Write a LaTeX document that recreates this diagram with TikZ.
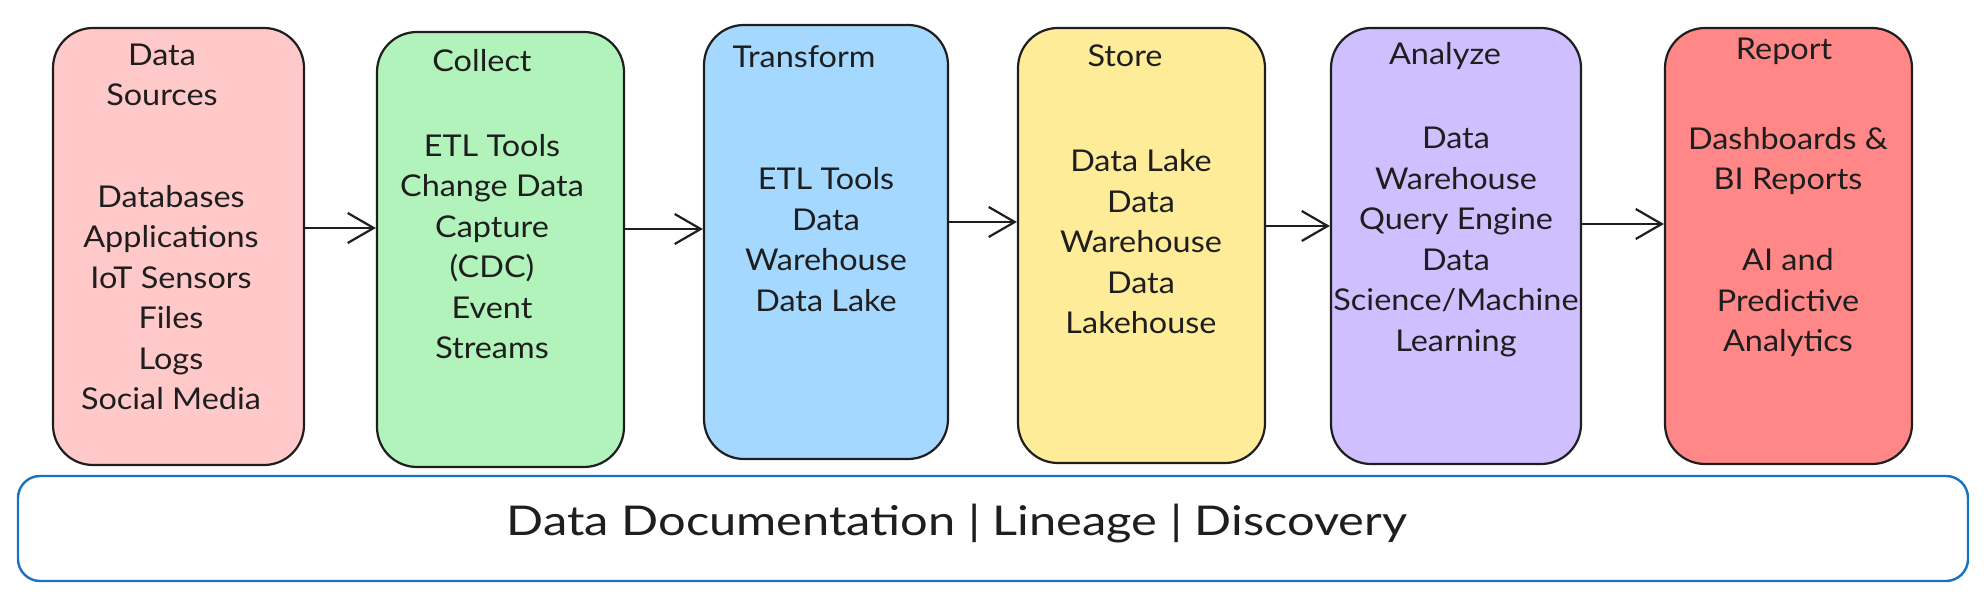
\documentclass[tikz,border=0pt]{standalone}
\usepackage{fontspec}
\setmainfont{Lato}[FakeStretch=1.08]
\newfontfamily\widefont{Lato}[FakeStretch=1.19]
\usetikzlibrary{arrows.meta}
\definecolor{cpink}{HTML}{FFC9C9}
\definecolor{cgreen}{HTML}{B2F2BB}
\definecolor{cblue}{HTML}{A5D8FF}
\definecolor{cyellow}{HTML}{FFEC99}
\definecolor{cpurple}{HTML}{D0BFFF}
\definecolor{cred}{HTML}{FF8787}
\definecolor{cink}{HTML}{1E1E1E}
\definecolor{cstroke}{HTML}{1971C2}
\tikzset{
  stage/.style={draw=cink, line width=2.2pt, rounded corners=40pt, inner sep=0pt},
  base/.style={draw=cstroke, line width=2.4pt, rounded corners=22pt, fill=white, inner sep=0pt},
  ttl/.style={text=cink, align=center, inner sep=0pt, font=\fontsize{30}{40}\selectfont},
  items/.style={text=cink, align=center, inner sep=0pt, font=\fontsize{30}{40.5}\selectfont},
  arr/.style={draw=cink, line width=2.2pt, -{Straight Barb[length=26pt,width=30pt,line width=2.2pt]}},
}
\begin{document}
\begin{tikzpicture}[x=1pt,y=-1pt]
\useasboundingbox (0,0) rectangle (1988,601);
% stages
\node[stage, fill=cpink,   minimum width=251pt, minimum height=437pt] (b1) at (178.5,246.5) {};
\node[stage, fill=cgreen,  minimum width=247pt, minimum height=435pt] (b2) at (500.5,249.5) {};
\node[stage, fill=cblue,   minimum width=244pt, minimum height=434pt] (b3) at (826,242) {};
\node[stage, fill=cyellow, minimum width=247pt, minimum height=435pt] (b4) at (1141.5,245.5) {};
\node[stage, fill=cpurple, minimum width=250pt, minimum height=436pt] (b5) at (1456,246) {};
\node[stage, fill=cred,    minimum width=247pt, minimum height=436pt] (b6) at (1788.5,246) {};
% titles
\node[ttl] (t1) at (162,75) {Data\\Sources};
\node[ttl] (t2) at (482,61) {Collect};
\node[ttl] (t3) at (804,57) {Transform};
\node[ttl] (t4) at (1125,56) {Store};
\node[ttl] (t5) at (1445,56) {Analyze};
\node[ttl] (t6) at (1784,51) {Report};
% items
\node[items] (i1) at (171,297.5) {Databases\\Applications\\IoT Sensors\\Files\\Logs\\Social Media};
\node[items] (i2) at (492,246.5) {ETL Tools\\Change Data\\Capture\\(CDC)\\Event\\Streams};
\node[items] (i3) at (826,239.5) {ETL Tools\\Data\\Warehouse\\Data Lake};
\node[items] (i4) at (1141,242) {Data Lake\\Data\\Warehouse\\Data\\Lakehouse};
\node[items] (i5) at (1456,242) {Data\\Warehouse\\Query Engine\\Data\\Science/Machine\\Learning};
\node[items] (i6) at (1788,242) {Dashboards \&\\BI Reports\\[40.5pt]AI and\\Predictive\\Analytics};
% arrows
\draw[arr] (b1.east |- 0,228) -- (b2.west |- 0,228);
\draw[arr] (b2.east |- 0,229) -- (b3.west |- 0,229);
\draw[arr] (b3.east |- 0,222) -- (b4.west |- 0,222);
\draw[arr] (b4.east |- 0,226) -- (b5.west |- 0,226);
\draw[arr] (b5.east |- 0,224) -- (b6.west |- 0,224);
% base layer
\node[base, minimum width=1950pt, minimum height=105pt] (bl) at (993,528.5) {};
\node[text=cink, inner sep=0pt, font=\widefont\fontsize{41}{50}\selectfont] (bt) at (957,524) {Data Documentation | Lineage | Discovery};
\end{tikzpicture}
\end{document}
